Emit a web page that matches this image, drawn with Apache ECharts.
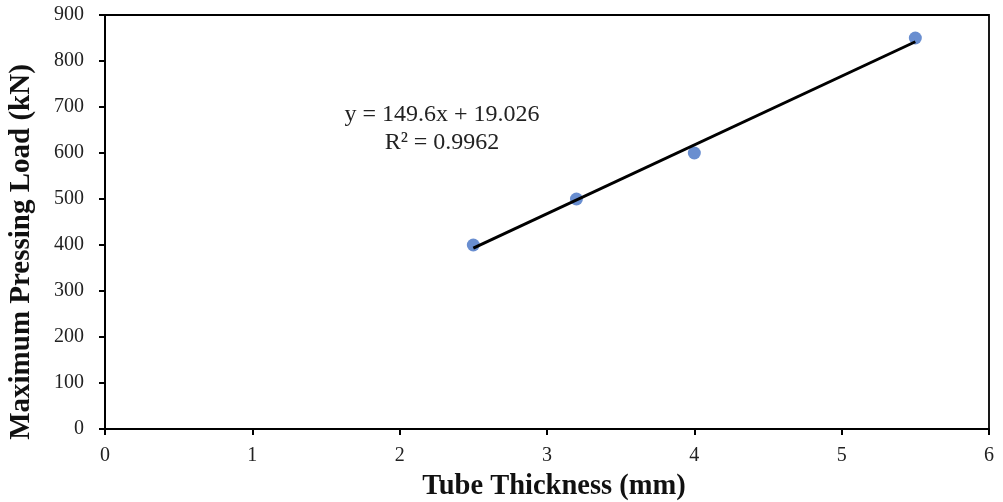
<!DOCTYPE html>
<html>
<head>
<meta charset="utf-8">
<script src="https://cdn.jsdelivr.net/npm/echarts@6/dist/echarts.min.js"></script>
<style>
  html, body { margin: 0; padding: 0; background: #fff; }
  #chart { width: 1003px; height: 502px; }
</style>
</head>
<body>
<div id="chart"></div>
<script>
// Measured thickness (mm) and peak pressing load (kN)
const thickness = [2.5, 3.2, 4.0, 5.5];
const maxLoad = [400, 500, 600, 850];

// Linear fit reported on the chart
const slope = 149.6;
const intercept = 19.026;
const rSquared = 0.9962;

const xTicks = [0, 1, 2, 3, 4, 5, 6];
const yTicks = [0, 100, 200, 300, 400, 500, 600, 700, 800, 900];

const xTitle = 'Tube Thickness (mm)';
const yTitle = 'Maximum Pressing Load (kN)';

const points = thickness.map((t, i) => [t, maxLoad[i]]);
const xFitMin = Math.min(...thickness);
const xFitMax = Math.max(...thickness);
const fitLine = [
  [xFitMin, slope * xFitMin + intercept],
  [xFitMax, slope * xFitMax + intercept]
];

const serif = '"Liberation Serif", "Times New Roman", serif';
const chart = echarts.init(document.getElementById('chart'), null, { renderer: 'canvas' });

chart.setOption({
  animation: false,
  backgroundColor: '#ffffff',
  grid: {
    left: 105, right: 14, top: 15, bottom: 73,
    outerBoundsMode: 'none',
    containLabel: false,
    show: true, borderColor: '#000', borderWidth: 1.8, backgroundColor: 'transparent'
  },
  xAxis: {
    type: 'value',
    min: xTicks[0], max: xTicks[xTicks.length - 1], interval: 1,
    axisLine: { show: true, onZero: false, lineStyle: { color: '#000', width: 2 } },
    axisTick: { show: true, inside: false, length: 6, lineStyle: { color: '#000', width: 2 } },
    axisLabel: { fontFamily: serif, fontSize: 20, color: '#222', margin: 17 },
    splitLine: { show: false }
  },
  yAxis: {
    type: 'value',
    min: yTicks[0], max: yTicks[yTicks.length - 1], interval: 100,
    axisLine: { show: true, onZero: false, lineStyle: { color: '#000', width: 2 } },
    axisTick: { show: true, inside: false, length: 6, lineStyle: { color: '#000', width: 2 } },
    axisLabel: { fontFamily: serif, fontSize: 20, color: '#222', margin: 21 },
    splitLine: { show: false }
  },
  series: [
    {
      name: 'Fit',
      type: 'line',
      data: fitLine,
      symbol: 'none',
      lineStyle: { color: '#000', width: 3 },
      z: 3
    },
    {
      name: 'Load',
      type: 'scatter',
      data: points,
      symbol: 'circle',
      symbolSize: 13,
      itemStyle: { color: '#4472C4' },
      z: 2
    }
  ],
  graphic: [
    // axis titles
    {
      type: 'text',
      x: 554, y: 487,
      style: {
        text: xTitle,
        font: 'bold 28.5px ' + serif,
        fill: '#111',
        align: 'center',
        verticalAlign: 'middle'
      }
    },
    {
      type: 'text',
      x: 22, y: 252,
      rotation: Math.PI / 2,
      style: {
        text: yTitle,
        font: 'bold 29px ' + serif,
        fill: '#111',
        align: 'center',
        verticalAlign: 'middle'
      }
    },
    // regression equation
    {
      type: 'text',
      x: 442, y: 115,
      style: {
        text: 'y = ' + slope + 'x + ' + intercept.toFixed(3),
        font: '24px ' + serif,
        fill: '#222',
        align: 'center',
        verticalAlign: 'middle'
      }
    },
    {
      type: 'text',
      x: 442, y: 143,
      style: {
        text: 'R² = ' + rSquared,
        font: '24px ' + serif,
        fill: '#222',
        align: 'center',
        verticalAlign: 'middle'
      }
    }
  ]
});
</script>
</body>
</html>
